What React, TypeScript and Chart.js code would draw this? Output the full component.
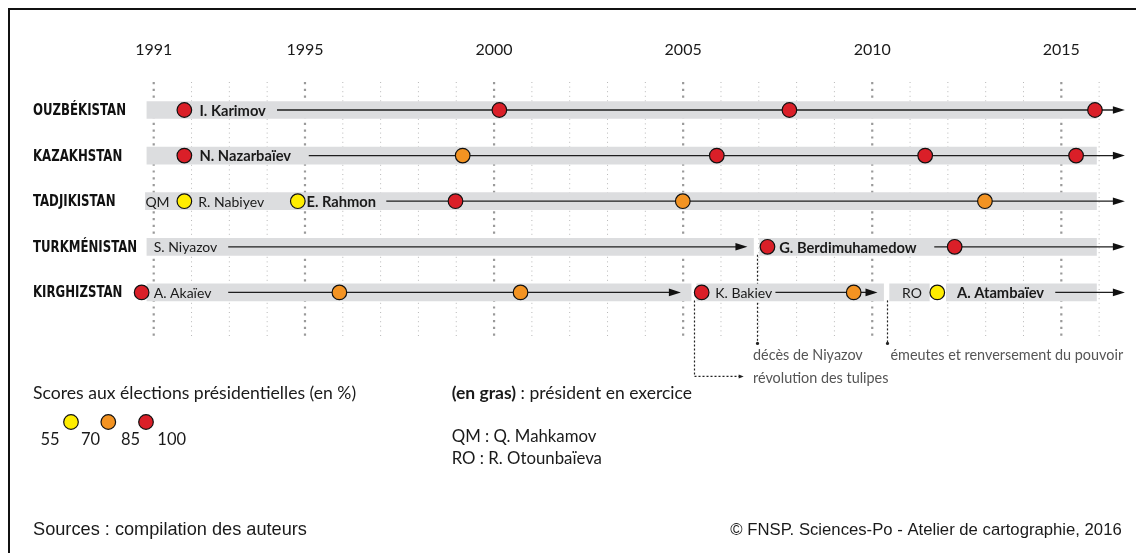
import React, { useEffect, useRef } from 'react';
import { Chart, registerables } from 'chart.js';

Chart.register(...registerables);

// ---------------- DATA ----------------
const countries = ['OUZBÉKISTAN', 'KAZAKHSTAN', 'TADJIKISTAN', 'TURKMÉNISTAN', 'KIRGHIZSTAN'];

const yearTicks = [1991, 1995, 2000, 2005, 2010, 2015];
const gridYears = [1991, 1992, 1993, 1994, 1995, 1996, 1997, 1998, 1999, 2000, 2001, 2002, 2003,
  2004, 2005, 2006, 2007, 2008, 2009, 2010, 2011, 2012, 2013, 2014, 2015, 2016];

// grey period bars (one array per segment, indexed like countries)
const barSegment1 = [[1990.82, 2015.93], [1990.82, 2015.93], [1990.78, 2015.93], [1990.82, 2006.86], [1990.82, 2005.21]];
const barSegment2 = [null, null, null, [2007.02, 2015.93], [2005.36, 2010.30]];
const barSegment3 = [null, null, null, null, [2010.46, 2011.51]];
const barSegment4 = [null, null, null, null, [2011.96, 2015.93]];

// continuity lines (ending with an arrow)
const lineCountry = ['OUZBÉKISTAN', 'KAZAKHSTAN', 'TADJIKISTAN', 'TURKMÉNISTAN', 'TURKMÉNISTAN', 'KIRGHIZSTAN', 'KIRGHIZSTAN', 'KIRGHIZSTAN'];
const lineStart = [1994.26, 1995.1, 1997.15, 1992.97, 2011.64, 1992.97, 2007.44, 2014.84];
const lineEnd = [2016.68, 2016.68, 2016.68, 2006.7, 2016.68, 2004.94, 2010.14, 2016.68];

// presidential elections
const electionCountry = [
  'OUZBÉKISTAN', 'OUZBÉKISTAN', 'OUZBÉKISTAN', 'OUZBÉKISTAN',
  'KAZAKHSTAN', 'KAZAKHSTAN', 'KAZAKHSTAN', 'KAZAKHSTAN', 'KAZAKHSTAN',
  'TADJIKISTAN', 'TADJIKISTAN', 'TADJIKISTAN', 'TADJIKISTAN', 'TADJIKISTAN',
  'TURKMÉNISTAN', 'TURKMÉNISTAN',
  'KIRGHIZSTAN', 'KIRGHIZSTAN', 'KIRGHIZSTAN', 'KIRGHIZSTAN', 'KIRGHIZSTAN', 'KIRGHIZSTAN'];
const electionYear = [
  1991.81, 2000.14, 2007.81, 2015.89,
  1991.81, 1999.17, 2005.89, 2011.40, 2015.39,
  1991.81, 1994.81, 1998.98, 2004.99, 2012.98,
  2007.23, 2012.18,
  1990.68, 1995.91, 2000.70, 2005.49, 2009.51, 2011.72];
const electionScore = [
  86, 92, 88, 90,
  99, 80, 91, 96, 98,
  57, 58, 97, 79, 84,
  89, 97,
  95, 72, 75, 89, 76, 63];

// presidents' names
const nameCountry = ['OUZBÉKISTAN', 'KAZAKHSTAN', 'TADJIKISTAN', 'TADJIKISTAN', 'TADJIKISTAN', 'TURKMÉNISTAN', 'TURKMÉNISTAN', 'KIRGHIZSTAN', 'KIRGHIZSTAN', 'KIRGHIZSTAN', 'KIRGHIZSTAN'];
const nameYear = [1992.21, 1992.21, 1990.78, 1992.18, 1995.04, 1991.0, 2007.54, 1991.0, 2005.85, 2010.79, 2012.24];
const nameText = ['I. Karimov', 'N. Nazarbaïev', 'QM', 'R. Nabiyev', 'E. Rahmon', 'S. Niyazov', 'G. Berdimuhamedow', 'A. Akaïev', 'K. Bakiev', 'RO', 'A. Atambaïev'];
const nameBold = [true, true, false, false, true, false, true, false, false, false, true];

// events
const eventYear = [2006.94, 2005.28, 2010.39];
const eventFromRow = ['TURKMÉNISTAN', 'KIRGHIZSTAN', 'KIRGHIZSTAN'];
const eventText = ['décès de Niyazov', 'révolution des tulipes', 'émeutes et renversement du pouvoir'];

// legend
const legendBreaks = ['55', '70', '85', '100'];
const legendColors = ['#FFED00', '#F39322', '#DA1F28'];

const scoreColor = (s: number) => (s < 70 ? legendColors[0] : s < 85 ? legendColors[1] : legendColors[2]);

// ---------------- STYLE ----------------
const LATO = "Lato, 'Open Sans', sans-serif";
const NARROW = "'Liberation Sans Narrow', 'DejaVu Sans Condensed', sans-serif";
const ARIAL = "'Liberation Sans', Arial, sans-serif";
const BAR_GREY = '#DCDDDF';

function arrowHead(ctx: CanvasRenderingContext2D, x: number, y: number, len = 12, half = 3.8) {
  ctx.beginPath();
  ctx.moveTo(x, y);
  ctx.lineTo(x - len, y - half);
  ctx.lineTo(x - len, y + half);
  ctx.closePath();
  ctx.fill();
}

function squeezedText(ctx: CanvasRenderingContext2D, text: string, x: number, y: number, targetW: number) {
  const w = ctx.measureText(text).width;
  ctx.save();
  ctx.translate(x, y);
  ctx.scale(Math.min(1, targetW / w), 1);
  ctx.fillText(text, 0, 0);
  ctx.restore();
}

const overlay = {
  id: 'overlay',
  beforeDatasetsDraw(chart: any) {
    const { ctx } = chart;
    const x = chart.scales.x;
    const y = chart.scales.y;
    const firstRow = y.getPixelForValue(0);
    const lastRow = y.getPixelForValue(countries.length - 1);
    ctx.save();
    // dotted year grid
    for (const yr of gridYears) {
      const major = yearTicks.includes(yr);
      const px = x.getPixelForValue(yr);
      ctx.strokeStyle = major ? '#9a9a9a' : '#b8b8b8';
      ctx.lineWidth = major ? 2.2 : 1;
      ctx.setLineDash(major ? [2.2, 4.6] : [1, 3.6]);
      ctx.beginPath();
      ctx.moveTo(px, firstRow - 28);
      ctx.lineTo(px, lastRow + 44);
      ctx.stroke();
    }
    // event lines
    ctx.strokeStyle = '#222';
    ctx.fillStyle = '#222';
    ctx.lineWidth = 1.2;
    ctx.setLineDash([2, 2]);
    eventYear.forEach((yr, i) => {
      const px = Math.round(x.getPixelForValue(yr)) + 0.5;
      const y0 = y.getPixelForValue(countries.indexOf(eventFromRow[i])) + 8;
      const yEnd = i === 1 ? lastRow + 84 : lastRow + 51;
      ctx.beginPath();
      ctx.moveTo(px, y0);
      ctx.lineTo(px, yEnd);
      if (i === 1) {
        ctx.lineTo(x.getPixelForValue(2006.55), yEnd);
      }
      ctx.stroke();
      if (i === 1) {
        arrowHead(ctx, x.getPixelForValue(2006.6), yEnd, 5, 2);
      } else {
        ctx.beginPath();
        ctx.arc(px, yEnd, 1.6, 0, Math.PI * 2);
        ctx.fill();
      }
    });
    ctx.restore();
  },
  afterDatasetsDraw(chart: any) {
    const { ctx } = chart;
    const x = chart.scales.x;
    const y = chart.scales.y;
    ctx.save();
    // frame
    ctx.strokeStyle = '#111';
    ctx.lineWidth = 2;
    ctx.beginPath();
    ctx.moveTo(9, 553);
    ctx.lineTo(9, 9);
    ctx.lineTo(1136, 9);
    ctx.stroke();

    // arrowheads
    ctx.fillStyle = '#111';
    lineCountry.forEach((c, i) => {
      arrowHead(ctx, x.getPixelForValue(lineEnd[i]), y.getPixelForValue(countries.indexOf(c)));
    });

    // year labels
    ctx.fillStyle = '#1a1a1a';
    ctx.textBaseline = 'middle';
    ctx.textAlign = 'center';
    ctx.font = `16px ${LATO}`;
    yearTicks.forEach((yr) => ctx.fillText(String(yr), x.getPixelForValue(yr), 50));

    // country labels (bold condensed)
    ctx.textAlign = 'left';
    ctx.fillStyle = '#111';
    ctx.font = `bold 15.5px ${NARROW}`;
    const ref = ctx.measureText(countries[0]).width;
    const sx = Math.min(1, 93 / ref);
    countries.forEach((c, i) => {
      const w = ctx.measureText(c).width;
      squeezedText(ctx, c, 33, y.getPixelForValue(i) + 1, w * sx);
    });

    // names
    nameText.forEach((t, i) => {
      ctx.font = nameBold[i] ? `bold 14.7px ${LATO}` : `14px ${LATO}`;
      ctx.fillStyle = '#1a1a1a';
      ctx.fillText(t, x.getPixelForValue(nameYear[i]), y.getPixelForValue(countries.indexOf(nameCountry[i])) + 1);
    });

    // event texts
    ctx.font = `14.4px ${LATO}`;
    ctx.fillStyle = '#555';
    const lastRow = y.getPixelForValue(countries.length - 1);
    ctx.fillText(eventText[0], x.getPixelForValue(eventYear[0]) - 3.5, lastRow + 63);
    ctx.fillText(eventText[1], x.getPixelForValue(eventYear[0]) - 3.5, lastRow + 86);
    ctx.fillText(eventText[2], x.getPixelForValue(eventYear[2]) + 3.5, lastRow + 63);

    // legend
    ctx.fillStyle = '#1a1a1a';
    ctx.font = `17.6px ${LATO}`;
    ctx.fillText('Scores aux élections présidentielles (en %)', 33, 393);
    const numX = [50, 90.5, 130.5, 171.7];
    const dotX = [71, 108.3, 146];
    ctx.textAlign = 'center';
    ctx.font = `16.5px ${LATO}`;
    legendBreaks.forEach((b, i) => ctx.fillText(b, numX[i], 440));
    ctx.strokeStyle = '#111';
    ctx.lineWidth = 1.2;
    legendColors.forEach((col, i) => {
      ctx.beginPath();
      ctx.arc(dotX[i], 422, 7.3, 0, Math.PI * 2);
      ctx.fillStyle = col;
      ctx.fill();
      ctx.stroke();
    });

    ctx.textAlign = 'left';
    ctx.fillStyle = '#1a1a1a';
    ctx.font = `bold 17.5px ${LATO}`;
    const bp = '(en gras)';
    ctx.fillText(bp, 451.7, 393);
    const w = ctx.measureText(bp).width;
    ctx.font = `17.5px ${LATO}`;
    ctx.fillText(' : président en exercice', 451.7 + w, 393);
    ctx.font = `16.8px ${LATO}`;
    ctx.fillText('QM : Q. Mahkamov', 451.7, 437);
    ctx.fillText('RO : R. Otounbaïeva', 451.7, 459);

    // sources
    ctx.font = `18.2px ${ARIAL}`;
    ctx.fillText('Sources : compilation des auteurs', 33, 530);
    ctx.textAlign = 'right';
    ctx.font = `16.7px ${ARIAL}`;
    ctx.fillText('© FNSP. Sciences-Po - Atelier de cartographie, 2016', 1121.7, 530);
    ctx.restore();
  },
};

export default function App() {
  const ref = useRef<HTMLCanvasElement | null>(null);
  useEffect(() => {
    if (!ref.current) return;
    const barDs = [barSegment1, barSegment2, barSegment3, barSegment4].map((seg) => ({
      type: 'bar' as const,
      data: seg as any,
      backgroundColor: BAR_GREY,
      borderWidth: 0,
      barThickness: 17,
      grouped: false,
      order: 3,
    }));
    const lineDs = lineCountry.map((c, i) => ({
      type: 'line' as const,
      data: [{ x: lineStart[i], y: c }, { x: lineEnd[i] - 0.1, y: c }] as any,
      borderColor: '#1e1e1e',
      borderWidth: 1.3,
      pointRadius: 0,
      fill: false,
      order: 2,
    }));
    const pointDs = {
      type: 'scatter' as const,
      data: electionYear.map((yr, i) => ({ x: yr, y: electionCountry[i] })) as any,
      pointRadius: 7.3,
      pointBackgroundColor: electionScore.map(scoreColor),
      pointBorderColor: '#111',
      pointBorderWidth: 1.2,
      order: 1,
    };
    const chart = new Chart(ref.current, {
      type: 'bar',
      data: { labels: countries, datasets: [...barDs, ...lineDs, pointDs] as any },
      options: {
        indexAxis: 'y',
        responsive: false,
        animation: false,
        events: [],
        layout: { padding: { left: 115.9, right: 1.44, top: 87.2, bottom: 237.8 } },
        plugins: { legend: { display: false }, tooltip: { enabled: false } },
        scales: {
          x: { type: 'linear', min: 1990, max: 2016.75, display: false },
          y: { type: 'category', display: false, offset: true },
        },
      } as any,
      plugins: [overlay],
    });
    return () => chart.destroy();
  }, []);
  return (
    <div style={{ position: 'absolute', left: 0, top: 0, width: 1136, height: 553, background: '#fff' }}>
      <canvas ref={ref} width={1136} height={553} style={{ display: 'block' }} />
    </div>
  );
}
